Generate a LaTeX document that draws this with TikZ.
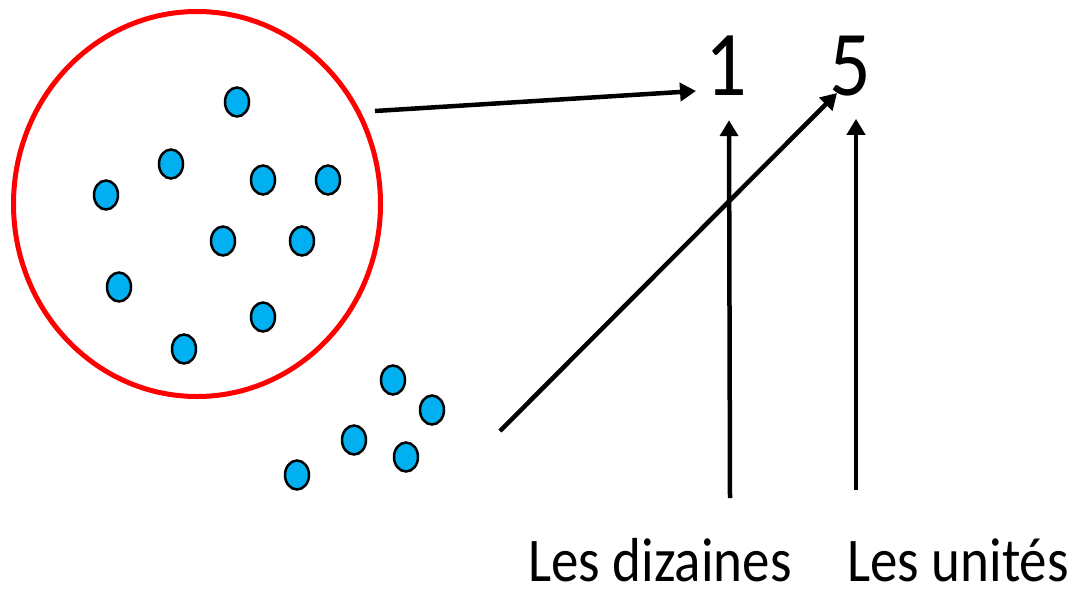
\documentclass[tikz,border=0pt]{standalone}
\usepackage{fontspec}
\setmainfont{Carlito}
\usepackage{graphicx}
\usetikzlibrary{arrows.meta,shapes.geometric}
\definecolor{bleujeton}{RGB}{0,176,240}
\newcommand{\etire}[1]{\scalebox{1}[1.13]{#1}}

\begin{document}
\begin{tikzpicture}[
  x=1pt, y=-1pt,
  ensemble/.style = {
    ellipse, draw=red, line width=5pt, inner sep=0pt,
    minimum width=367pt, minimum height=385pt,
  },
  jeton/.style = {
    ellipse, draw=black, line width=2.5pt, fill=bleujeton, inner sep=0pt,
    minimum width=24pt, minimum height=29pt,
  },
  chiffre/.style = {font=\fontsize{82}{90}\selectfont, inner sep=0pt, anchor=base},
  etiquette/.style = {font=\fontsize{55}{60}\selectfont, inner sep=0pt, anchor=base},
  fleche/.style = {-{Triangle[length=16pt,width=18pt]}, line width=4.5pt, draw=black},
]
  \useasboundingbox (0,0) rectangle (1076,590);

  % la dizaine entouree
  \node[ensemble] (dizaine) at (197,204) {};
  \node[jeton] (d1) at (237,102) {};
  \node[jeton] (d2) at (171,164) {};
  \node[jeton] (d3) at (263,180) {};
  \node[jeton] (d4) at (328,180) {};
  \node[jeton] (d5) at (106,195) {};
  \node[jeton] (d6) at (223,241) {};
  \node[jeton] (d7) at (302,241) {};
  \node[jeton] (d8) at (119,287) {};
  \node[jeton] (d9) at (263,317) {};
  \node[jeton] (d10) at (184,349) {};

  % les unites isolees
  \node[jeton] (u1) at (393,380) {};
  \node[jeton] (u2) at (432,410) {};
  \node[jeton] (u3) at (354,440) {};
  \node[jeton] (u4) at (406,457) {};
  \node[jeton] (u5) at (297,475) {};

  % le nombre
  \node[chiffre] (un) at (726,95) {\etire{1}};
  \node[chiffre] (cinq) at (850,95) {\etire{5}};

  \node[etiquette] (lbldiz) at (660,581) {\etire{Les dizaines}};
  \node[etiquette] (lbluni) at (958,581) {\etire{Les unités}};

  \coordinate (depart1) at (375,111);
  \coordinate (depart2) at (500,431);
  \coordinate (pied1) at (730,498);
  \coordinate (pied2) at (856,490);

  \draw[fleche] (depart1) -- ([shift={(-9,-4)}]un.base west);
  \draw[fleche] (depart2) -- ([shift={(8,-2)}]cinq.base west);
  \draw[fleche] (pied1) -- ([shift={(3,25)}]un.south);
  \draw[fleche] (pied2) -- ([shift={(6,23)}]cinq.south);
\end{tikzpicture}
\end{document}
